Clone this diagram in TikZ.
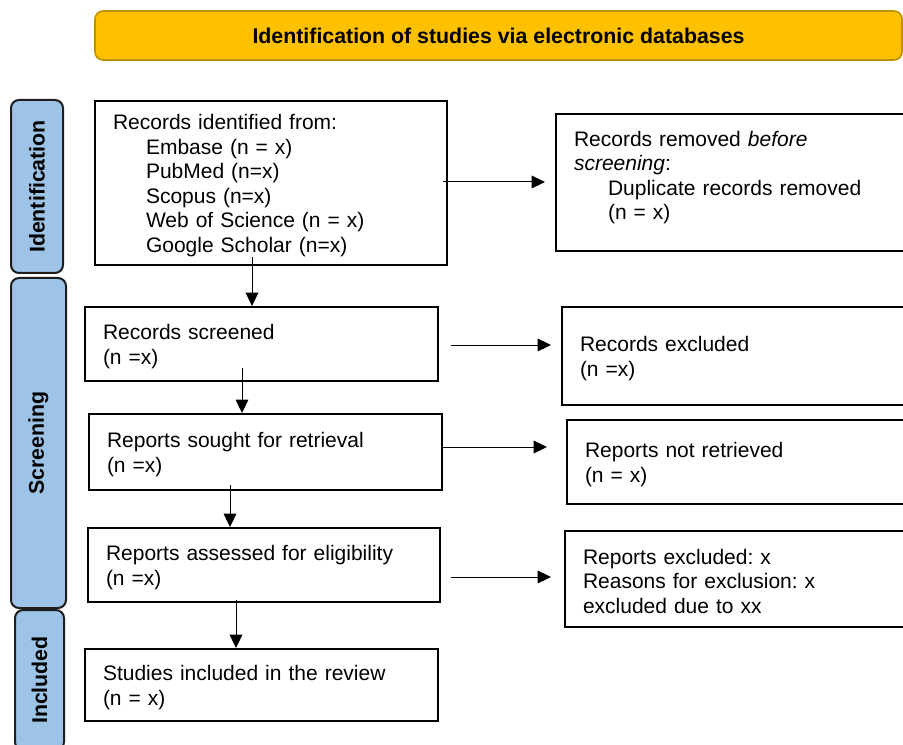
\documentclass[tikz,border=0pt]{standalone}
\usepackage{fontspec}
\setmainfont{Liberation Sans}
\usetikzlibrary{arrows.meta,calc}
\definecolor{bannerfill}{RGB}{255,192,0}
\definecolor{bannerdraw}{RGB}{191,144,0}
\definecolor{sidefill}{RGB}{157,195,230}
\definecolor{sidedraw}{RGB}{30,30,30}
\newcommand{\topstrut}{\rule{0pt}{15pt}}
\frenchspacing
\begin{document}
\begin{tikzpicture}[x=0.75pt,y=-0.75pt,
  box/.style={draw=black,line width=1.5pt,rectangle,anchor=north west,
    inner xsep=13.5pt,inner ysep=0pt,align=left,
    font=\fontsize{15.75pt}{18.4pt}\selectfont},
  side/.style={draw=sidedraw,fill=sidefill,line width=1.5pt,rounded corners=6pt,
    rotate=90,inner sep=0pt,font=\fontsize{16pt}{18pt}\selectfont\bfseries},
  banner/.style={draw=bannerdraw,fill=bannerfill,line width=1.2pt,rounded corners=6pt,
    inner sep=0pt,font=\fontsize{16pt}{18pt}\selectfont\bfseries},
  arr/.style={line width=0.75pt,-{Triangle[length=10pt,width=9.5pt]}}]
\useasboundingbox (0,0) rectangle (903,745);
\clip (0,0) rectangle (903,745);
\fill[white] (0,0) rectangle (903,745);

\node[banner,minimum width=605.25pt,minimum height=36.75pt] (ban) at (498.5,35.5)
  {Identification of studies via electronic databases};

\node[side,minimum width=129.75pt,minimum height=39pt] (sid) at (37,186.5) {Identification};
\node[side,minimum width=247.5pt,minimum height=41.25pt] (sscr) at (38.5,443) {Screening};
\node[side,minimum width=105pt,minimum height=36.75pt] (sinc) at (39.5,680) {Included};

\node[box,text width=237pt,minimum height=123pt] (b1) at (94,100)
  {\topstrut Records identified from:\\
   \hspace*{24.75pt}Embase (n = x)\\
   \hspace*{24.75pt}PubMed (n=x)\\
   \hspace*{24.75pt}Scopus (n=x)\\
   \hspace*{24.75pt}Web of Science (n = x)\\
   \hspace*{24.75pt}Google Scholar (n=x)};
\node[box,text width=246pt,minimum height=102.75pt] (b2) at (555,113)
  {\topstrut Records removed \textit{before}\\
   \textit{screening}:\\
   \hspace*{25.5pt}Duplicate records removed\\
   \hspace*{25.5pt}(n = x)\rule[-14pt]{0pt}{1pt}};
\node[box,text width=237.75pt,minimum height=55.5pt] (b3) at (84,306)
  {\topstrut Records screened\\(n =x)};
\node[box,text width=243pt,minimum height=73.5pt] (b4) at (561,306)
  {\topstrut Records excluded\\(n =x)};
\node[box,text width=237.75pt,minimum height=57pt] (b5) at (88,413)
  {\topstrut Reports sought for retrieval\\(n =x)};
\node[box,text width=243pt,minimum height=63pt] (b6) at (566,419)
  {\topstrut Reports not retrieved\\(n = x)};
\node[box,text width=237pt,minimum height=55.5pt] (b7) at (87,527)
  {\topstrut Reports assessed for eligibility\\(n =x)};
\node[box,text width=243pt,minimum height=72pt] (b8) at (564,530)
  {\topstrut Reports excluded: x\\Reasons for exclusion: x\\excluded due to xx};
\node[box,text width=237.75pt,minimum height=54pt] (b9) at (84,648)
  {\topstrut Studies included in the review\\(n = x)};

\draw[arr] ($(b1.east)+(-5,-1)$) -- ($(b1.east -| b2.west)+(-10,-1)$);
\draw[arr] ($(b1.south west)+(158,-9)$) -- ($(b3.north west)+(168,0)$);
\draw[arr] ($(b3.east)+(12,1)$) -- ($(b3.east -| b4.west)+(-10,1)$);
\draw[arr] ($(b3.south west)+(158,-14)$) -- ($(b5.north west)+(154,0)$);
\draw[arr] ($(b5.east)+(0,-5)$) -- ($(b5.east -| b6.west)+(-19,-5)$);
\draw[arr] ($(b5.south west)+(142,-6)$) -- ($(b7.north west)+(143,0)$);
\draw[arr] ($(b7.east)+(10,12)$) -- ($(b7.east -| b8.west)+(-13,12)$);
\draw[arr] ($(b7.south west)+(149,-3)$) -- ($(b9.north west)+(152,0)$);
\end{tikzpicture}
\end{document}
